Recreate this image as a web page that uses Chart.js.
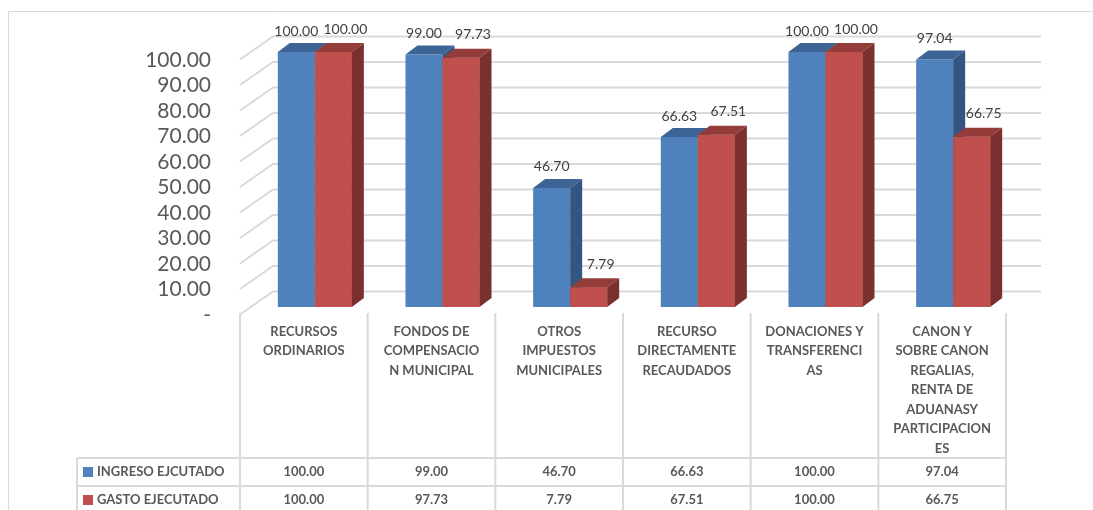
<!DOCTYPE html>
<html>
<head>
<meta charset="utf-8">
<title>Ingreso y gasto ejecutado</title>
<script src="https://cdn.jsdelivr.net/npm/chart.js@4.4.0/dist/chart.umd.min.js"></script>
<style>
    html, body { margin: 0; padding: 0; background: #ffffff; }
    #wrap { position: relative; width: 1093px; height: 510px; }
</style>
</head>
<body>
<div id="wrap"><canvas id="chart" width="1093" height="510"></canvas></div>
<script>
// Data
const categories = [
    ["RECURSOS", "ORDINARIOS"],
    ["FONDOS DE", "COMPENSACIO", "N MUNICIPAL"],
    ["OTROS", "IMPUESTOS", "MUNICIPALES"],
    ["RECURSO", "DIRECTAMENTE", "RECAUDADOS"],
    ["DONACIONES Y", "TRANSFERENCI", "AS"],
    ["CANON Y", "SOBRE CANON", "REGALIAS,", "RENTA DE", "ADUANASY", "PARTICIPACION", "ES"],
];
const ingresoEjecutado = [100.0, 99.0, 46.7, 66.63, 100.0, 97.04];
const gastoEjecutado = [100.0, 97.73, 7.79, 67.51, 100.0, 66.75];
const seriesNames = ["INGRESO EJCUTADO", "GASTO EJECUTADO"];
const yTickValues = [0, 10, 20, 30, 40, 50, 60, 70, 80, 90, 100];

// Look
const FONT = "Lato, 'Open Sans', sans-serif";
const GRID = "#d9d9d9";
const TEXT = "#595959";
const BLUE = { front: "#4f81bd", top: "#3c6494", side: "#325681" };
const RED = { front: "#c0504d", top: "#943c3a", side: "#7a302e" };
const DX = 12; // 3D depth
const DY = 9;
const FRONT_SHIFT = -11; // table / floor front edge vs. bar plane

const fmt = (v) => v.toFixed(2);

function drawFaces(ctx, bar, colors) {
    const { x, y, base, width } = bar.getProps(["x", "y", "base", "width"], true);
    const l = x - width / 2;
    const r = x + width / 2;
    ctx.fillStyle = colors.top;
    ctx.beginPath();
    ctx.moveTo(l, y);
    ctx.lineTo(l + DX, y - DY);
    ctx.lineTo(r + DX, y - DY);
    ctx.lineTo(r, y);
    ctx.closePath();
    ctx.fill();
    ctx.fillStyle = colors.side;
    ctx.beginPath();
    ctx.moveTo(r, y);
    ctx.lineTo(r + DX, y - DY);
    ctx.lineTo(r + DX, base - DY);
    ctx.lineTo(r, base);
    ctx.closePath();
    ctx.fill();
}

function line(ctx, x1, y1, x2, y2) {
    ctx.beginPath();
    ctx.moveTo(x1, y1);
    ctx.lineTo(x2, y2);
    ctx.stroke();
}

const excel3d = {
    id: "excel3d",
    beforeDatasetsDraw(chart) {
        const { ctx, chartArea: area, scales } = chart;
        const yS = scales.y;
        const xS = scales.x;
        ctx.save();

        // outer frame
        ctx.strokeStyle = GRID;
        ctx.lineWidth = 1;
        line(ctx, 8.5, 11.5, chart.width, 11.5);
        line(ctx, 8.5, 11.5, 8.5, chart.height);

        // back wall gridlines + side wall diagonals
        ctx.lineWidth = 2;
        yTickValues.forEach((v) => {
            const p = yS.getPixelForValue(v);
            ctx.beginPath();
            ctx.moveTo(area.left + FRONT_SHIFT, p + 7.5);
            ctx.lineTo(area.left + 22, p - 15.5);
            ctx.lineTo(area.right + 24, p - 15.5);
            ctx.stroke();
        });

        // data table grid
        const step = xS.getPixelForValue(1) - xS.getPixelForValue(0);
        const x0 = area.left + FRONT_SHIFT;
        const floorY = area.bottom + 6;
        for (let k = 0; k <= categories.length; k++) {
            const xb = x0 + k * step;
            line(ctx, xb, floorY, xb, chart.height);
        }
        const xEnd = x0 + categories.length * step;
        line(ctx, 77, 458, xEnd, 458);
        line(ctx, 77, 486, xEnd, 486);
        line(ctx, 77, 458, 77, chart.height);
        ctx.restore();
    },
    afterDatasetsDraw(chart) {
        const { ctx, scales } = chart;
        const blue = chart.getDatasetMeta(0).data;
        const red = chart.getDatasetMeta(1).data;
        ctx.save();

        // side / top faces, red front redrawn over blue side
        for (let i = 0; i < categories.length; i++) {
            drawFaces(ctx, blue[i], BLUE);
            red[i].draw(ctx);
            drawFaces(ctx, red[i], RED);
        }

        // value labels over bars
        ctx.font = "14px " + FONT;
        ctx.fillStyle = "#404040";
        ctx.textAlign = "center";
        ctx.textBaseline = "middle";
        blue.forEach((b, i) => ctx.fillText(fmt(ingresoEjecutado[i]), b.x, b.y - 21));
        red.forEach((b, i) => ctx.fillText(fmt(gastoEjecutado[i]), b.x + 12, b.y - 23));

        // data table
        const rows = [
            { y: 472, name: seriesNames[0], color: BLUE.front, values: ingresoEjecutado },
            { y: 500, name: seriesNames[1], color: RED.front, values: gastoEjecutado },
        ];
        ctx.font = "bold 13px " + FONT;
        rows.forEach((row) => {
            ctx.fillStyle = row.color;
            ctx.fillRect(83, row.y - 5, 10, 10);
            ctx.fillStyle = TEXT;
            ctx.textAlign = "left";
            ctx.fillText(row.name, 97, row.y);
            ctx.textAlign = "center";
            row.values.forEach((v, i) => {
                ctx.fillText(fmt(v), scales.x.getPixelForValue(i) + FRONT_SHIFT, row.y);
            });
        });
        ctx.restore();
    },
};

new Chart(document.getElementById("chart"), {
    type: "bar",
    data: {
        labels: categories,
        datasets: [
            {
                label: seriesNames[0],
                data: ingresoEjecutado,
                backgroundColor: BLUE.front,
                borderWidth: 0,
                barPercentage: 1,
                categoryPercentage: 0.58,
            },
            {
                label: seriesNames[1],
                data: gastoEjecutado,
                backgroundColor: RED.front,
                borderWidth: 0,
                barPercentage: 1,
                categoryPercentage: 0.58,
            },
        ],
    },
    options: {
        responsive: false,
        animation: false,
        devicePixelRatio: 1,
        layout: { padding: { top: 52, right: 76, left: 0, bottom: 0 } },
        plugins: {
            legend: { display: false },
            tooltip: { enabled: false },
        },
        scales: {
            x: {
                grid: { display: false },
                border: { display: false },
                ticks: {
                    autoSkip: false,
                    maxRotation: 0,
                    minRotation: 0,
                    labelOffset: FRONT_SHIFT,
                    padding: 7,
                    color: TEXT,
                    font: { family: FONT, size: 13, weight: "bold", lineHeight: 1.5 },
                },
                afterFit: (scale) => { scale.height = 203; },
            },
            y: {
                min: 0,
                max: 100,
                grid: { display: false },
                border: { display: false },
                afterBuildTicks: (scale) => {
                    scale.ticks = yTickValues.map((v) => ({ value: v }));
                },
                ticks: {
                    autoSkip: false,
                    padding: 32,
                    labelOffset: 8,
                    color: TEXT,
                    font: { family: FONT, size: 21 },
                    callback: (v) => (v === 0 ? "-" : fmt(v)),
                },
                afterFit: (scale) => { scale.width = 251; },
            },
        },
    },
    plugins: [excel3d],
});
</script>
</body>
</html>
